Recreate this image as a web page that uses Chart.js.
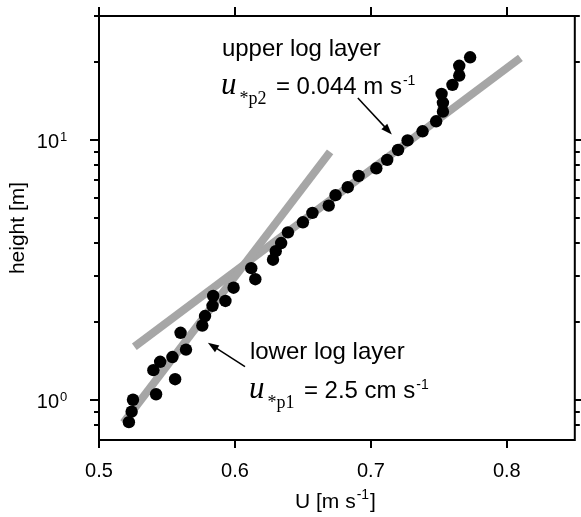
<!DOCTYPE html>
<html><head><meta charset="utf-8">
<script src="https://cdn.jsdelivr.net/npm/chart.js@4.4.0/dist/chart.umd.min.js"></script>
<style>html,body{margin:0;padding:0;background:#fff;}canvas{display:block;}</style>
</head><body>
<canvas id="c" width="581" height="517"></canvas>
<script>
// ---- data ----
const windSpeed = [0.522,0.524,0.525,0.542,0.556,0.540,0.545,0.554,0.564,0.560,0.576,0.578,0.5835,0.584,0.593,0.599,0.612,0.615,0.628,0.630,0.634,0.639,0.650,0.657,0.669,0.674,0.683,0.691,0.704,0.712,0.720,0.727,0.738,0.748,0.753,0.753,0.752,0.760,0.765,0.765,0.773];
const heightM   = [0.82,0.90,1.00,1.05,1.20,1.30,1.40,1.46,1.56,1.81,1.93,2.10,2.30,2.51,2.40,2.70,3.21,2.91,3.46,3.73,4.01,4.41,4.82,5.24,5.59,6.13,6.58,7.27,7.78,8.38,9.15,9.96,10.8,11.8,12.85,13.9,15.05,16.3,17.7,19.3,20.8];
const lowerFitU = [0.518, 0.670];
const lowerFitZ = [0.816, 9.0];
const upperFitU = [0.526, 0.810];
const upperFitZ = [1.60, 20.7];
const xTicks = [0.5, 0.6, 0.7, 0.8];
const xTickLabels = ['0.5', '0.6', '0.7', '0.8'];
const yMajorTicks = [1, 10];
const yMajorExponents = ['0', '1'];
const yMinorTicks = [0.8, 0.9, 2, 3, 4, 5, 6, 7, 8, 9, 20, 30];
const upperLabel = {u: 0.5904, z1: 21.0, z2: 15.0, title: 'upper log layer', sub: '*p2', value: '= 0.044 m s'};
const lowerLabel = {u: 0.6110, z1: 1.44, z2: 1.02, title: 'lower log layer', sub: '*p1', value: '= 2.5 cm s'};
const upperArrow = {fromU: 0.6904, fromZ: 14.5, toU: 0.7154, toZ: 10.5};
const lowerArrow = {fromU: 0.6074, fromZ: 1.34, toU: 0.5801, toZ: 1.656};

const SANS = '"Liberation Sans", Arial, Helvetica, sans-serif';
const SERIF = '"Liberation Serif", "Times New Roman", serif';

function toPts(us, zs){ return us.map((u,i)=>({x:u, y:zs[i]})); }

const decor = {
  id: 'decor',
  afterDraw(chart){
    const {ctx, chartArea: a, scales: {x, y}} = chart;
    ctx.save();
    ctx.strokeStyle = '#000';
    ctx.fillStyle = '#000';
    ctx.lineWidth = 2;
    ctx.strokeRect(a.left, a.top, a.right - a.left, a.bottom - a.top);
    ctx.beginPath();
    xTicks.forEach(v => {
      const px = Math.round(x.getPixelForValue(v));
      ctx.moveTo(px, a.bottom); ctx.lineTo(px, a.bottom + 8);
      ctx.moveTo(px, a.top); ctx.lineTo(px, a.top - 9);
    });
    yMajorTicks.forEach(v => {
      const py = Math.round(y.getPixelForValue(v));
      ctx.moveTo(a.left, py); ctx.lineTo(a.left - 9, py);
      ctx.moveTo(a.right, py); ctx.lineTo(a.right + 9, py);
    });
    yMinorTicks.forEach(v => {
      const py = Math.round(y.getPixelForValue(v));
      ctx.moveTo(a.left, py); ctx.lineTo(a.left - 5, py);
      ctx.moveTo(a.right, py); ctx.lineTo(a.right + 5, py);
    });
    ctx.stroke();

    // tick labels
    ctx.font = '20px ' + SANS;
    ctx.textAlign = 'center'; ctx.textBaseline = 'alphabetic';
    xTicks.forEach((v, i) => {
      ctx.fillText(xTickLabels[i], x.getPixelForValue(v), a.bottom + 37);
    });
    yMajorTicks.forEach((v, i) => {
      const py = y.getPixelForValue(v);
      ctx.font = '20px ' + SANS; ctx.textAlign = 'right';
      ctx.fillText('10', a.left - 40, py + 8);
      ctx.font = '13px ' + SANS; ctx.textAlign = 'left';
      ctx.fillText(yMajorExponents[i], a.left - 39, py + 1);
    });

    // axis titles
    ctx.font = '21px ' + SANS; ctx.textAlign = 'left';
    const tx = 295, ty = 508;
    ctx.fillText('U [m s', tx, ty);
    let w = ctx.measureText('U [m s').width;
    ctx.font = '14px ' + SANS;
    ctx.fillText('-1', tx + w + 1, ty - 9);
    const w2 = ctx.measureText('-1').width;
    ctx.font = '21px ' + SANS;
    ctx.fillText(']', tx + w + w2 + 2, ty);

    ctx.save();
    ctx.translate(24, (a.top + a.bottom) / 2);
    ctx.rotate(-Math.PI / 2);
    ctx.textAlign = 'center';
    ctx.fillText('height [m]', 0, 0);
    ctx.restore();

    // annotations
    function label(L){
      const px = x.getPixelForValue(L.u);
      const y1 = y.getPixelForValue(L.z1);
      const y2 = y.getPixelForValue(L.z2);
      ctx.textAlign = 'left';
      ctx.font = '24px ' + SANS;
      ctx.fillText(L.title, px, y1);
      ctx.font = 'italic 31px ' + SERIF;
      ctx.fillText('u', px - 1, y2);
      const uw = ctx.measureText('u').width;
      ctx.font = '18px ' + SERIF;
      ctx.fillText(L.sub, px + uw + 2, y2 + 10);
      ctx.font = '24px ' + SANS;
      const ex = px + 54;
      ctx.fillText(L.value, ex, y2);
      const vw = ctx.measureText(L.value).width;
      ctx.font = '14px ' + SANS;
      ctx.fillText('-1', ex + vw + 1, y2 - 9);
    }
    label(upperLabel);
    label(lowerLabel);

    function arrow(A){
      const x0 = x.getPixelForValue(A.fromU), y0 = y.getPixelForValue(A.fromZ);
      const x1 = x.getPixelForValue(A.toU), y1 = y.getPixelForValue(A.toZ);
      const ang = Math.atan2(y1 - y0, x1 - x0);
      const L = 11, H = 4;
      ctx.lineWidth = 1.5;
      ctx.beginPath();
      ctx.moveTo(x0, y0);
      ctx.lineTo(x1 - Math.cos(ang) * (L - 2), y1 - Math.sin(ang) * (L - 2));
      ctx.stroke();
      ctx.beginPath();
      ctx.moveTo(x1, y1);
      ctx.lineTo(x1 - Math.cos(ang) * L - Math.sin(ang) * H, y1 - Math.sin(ang) * L + Math.cos(ang) * H);
      ctx.lineTo(x1 - Math.cos(ang) * L + Math.sin(ang) * H, y1 - Math.sin(ang) * L - Math.cos(ang) * H);
      ctx.closePath();
      ctx.fill();
    }
    arrow(upperArrow);
    arrow(lowerArrow);
    ctx.restore();
  }
};

new Chart(document.getElementById('c'), {
  type: 'scatter',
  data: {
    datasets: [
      {label: 'observed', data: toPts(windSpeed, heightM), backgroundColor: '#000', borderWidth: 0, pointRadius: 6.2, pointHoverRadius: 6.2, order: 0},
      {label: 'lower fit', data: toPts(lowerFitU, lowerFitZ), showLine: true, borderColor: '#a6a6a6', borderWidth: 8, borderCapStyle: 'butt', pointRadius: 0, order: 1},
      {label: 'upper fit', data: toPts(upperFitU, upperFitZ), showLine: true, borderColor: '#a6a6a6', borderWidth: 8, borderCapStyle: 'butt', pointRadius: 0, order: 2}
    ]
  },
  options: {
    responsive: false,
    animation: false,
    devicePixelRatio: 1,
    layout: {padding: {top: 16, right: 6, left: 0, bottom: 0}},
    plugins: {legend: {display: false}, tooltip: {enabled: false}},
    scales: {
      x: {type: 'linear', min: 0.5, max: 0.85,
          grid: {display: false}, border: {display: false}, ticks: {display: false},
          afterFit(s){ s.height = 77; }},
      y: {type: 'logarithmic', min: 0.7, max: 30,
          grid: {display: false}, border: {display: false}, ticks: {display: false},
          afterFit(s){ s.width = 99; }}
    }
  },
  plugins: [decor]
});
</script>
</body></html>
